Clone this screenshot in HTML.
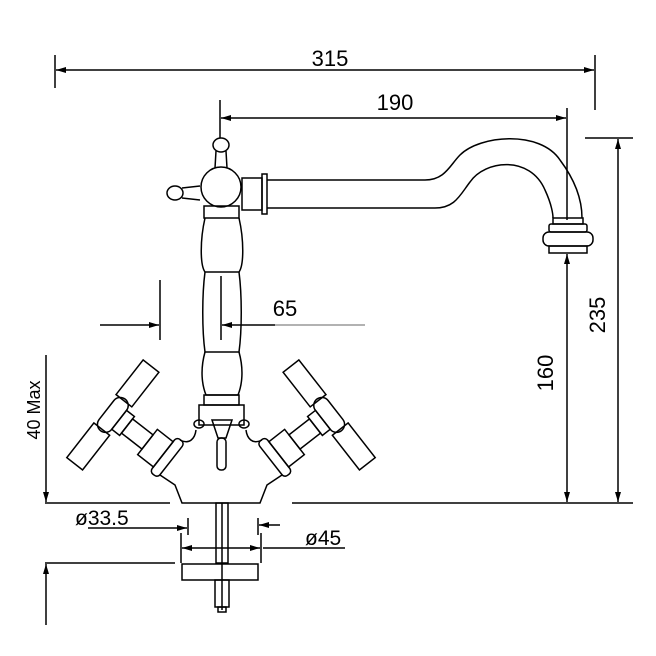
<!DOCTYPE html>
<html><head><style>html,body{margin:0;background:#fff}svg{display:block}</style></head><body>
<svg width="656" height="656" viewBox="0 0 656 656" xmlns="http://www.w3.org/2000/svg" font-family="Liberation Sans, sans-serif" fill="none" stroke="#000" stroke-width="1.5">
<defs>
<marker id="a" viewBox="0 0 10 6" refX="10" refY="3" markerWidth="18" markerHeight="6" markerUnits="userSpaceOnUse" orient="auto-start-reverse"><path d="M0,0L10,3L0,6z" fill="#000" stroke="none"/></marker>
</defs>
<!-- 315 -->
<line x1="55" y1="55" x2="55" y2="88"/><line x1="595" y1="55" x2="595" y2="110"/>
<line x1="56" y1="70" x2="594" y2="70" marker-start="url(#a)" marker-end="url(#a)"/>
<text x="330" y="66" font-size="22" fill="#000" stroke="none" text-anchor="middle">315</text>
<!-- 190 -->
<line x1="220" y1="100" x2="220" y2="138"/><line x1="567" y1="108" x2="567" y2="220"/>
<line x1="221" y1="118" x2="566" y2="118" marker-start="url(#a)" marker-end="url(#a)"/>
<text x="395" y="110" font-size="22" fill="#000" stroke="none" text-anchor="middle">190</text>
<!-- 235 -->
<line x1="585" y1="138" x2="633" y2="138"/>
<line x1="618" y1="139" x2="618" y2="502" marker-start="url(#a)" marker-end="url(#a)"/>
<text transform="translate(605,315) rotate(-90)" font-size="22" fill="#000" stroke="none" text-anchor="middle">235</text>
<!-- 160 -->
<line x1="567" y1="254" x2="567" y2="502" marker-start="url(#a)" marker-end="url(#a)"/>
<text transform="translate(553,373) rotate(-90)" font-size="22" fill="#000" stroke="none" text-anchor="middle">160</text>
<!-- baseline -->
<line x1="292" y1="503" x2="633" y2="503"/><line x1="45" y1="503" x2="170" y2="503"/>
<!-- 40 Max -->
<text transform="translate(40,410) rotate(-90)" font-size="18" fill="#000" stroke="none" text-anchor="middle">40 Max</text>
<line x1="46" y1="355" x2="46" y2="502" marker-end="url(#a)"/>
<line x1="45" y1="563" x2="175" y2="563"/>
<line x1="46" y1="625" x2="46" y2="564" marker-end="url(#a)"/>
<!-- 65 -->
<line x1="160" y1="280" x2="160" y2="340"/><line x1="221" y1="276" x2="221" y2="340"/>
<line x1="100" y1="325" x2="159" y2="325" marker-end="url(#a)"/>
<line x1="275" y1="325" x2="222" y2="325" marker-end="url(#a)"/>
<line x1="275" y1="325" x2="365" y2="325" stroke="#999"/>
<text x="285" y="316" font-size="22" fill="#000" stroke="none" text-anchor="middle">65</text>
<!-- diameters -->
<text x="75" y="525" font-size="21" fill="#000" stroke="none">ø33.5</text>
<line x1="88" y1="528" x2="187" y2="528" marker-end="url(#a)"/><line x1="188" y1="518" x2="188" y2="535"/>
<line x1="280" y1="525" x2="259" y2="525" marker-end="url(#a)"/><line x1="258" y1="518" x2="258" y2="535"/>
<line x1="263" y1="548" x2="345" y2="548"/>
<text x="305" y="545" font-size="21" fill="#000" stroke="none">ø45</text>
<line x1="181" y1="533" x2="181" y2="563"/><line x1="261" y1="533" x2="261" y2="563"/>
<line x1="182" y1="548" x2="260" y2="548" marker-start="url(#a)" marker-end="url(#a)"/>
<!-- stem & plate -->
<rect x="216" y="503" width="12" height="60"/><line x1="222" y1="503" x2="222" y2="610"/>
<rect x="182" y="564" width="76" height="16"/>
<rect x="215" y="580" width="14" height="27"/><rect x="218" y="607" width="8" height="5"/>
<!-- top knob & body -->
<ellipse cx="221" cy="145" rx="8" ry="7"/><path d="M216,151 L215,168 M226,151 L227,168"/>
<circle cx="221" cy="187" r="20"/>
<ellipse cx="175" cy="193" rx="8" ry="7"/><path d="M182,188 L200,186 M182,198 L200,200"/>
<rect x="242" y="178" width="20" height="32"/><rect x="262" y="174" width="5" height="40"/>
<!-- spout -->
<path d="M267,180 L425,180 C445,180 450,165 460,155 C480,135 540,130 560,160 C575,180 582,200 582,218"/>
<path d="M267,208 L435,208 C455,208 460,195 470,182 C485,160 530,155 545,190 C552,205 553,215 553,218"/>
<rect x="553" y="218" width="30" height="6"/>
<rect x="549" y="224" width="38" height="8" rx="2"/>
<rect x="543" y="232" width="50" height="14" rx="6"/>
<rect x="549" y="246" width="38" height="7"/>
<!-- column -->
<rect x="204" y="206" width="35" height="12"/>
<path d="M205,218 C200,240 200,265 205,272 L239,272 C244,265 244,240 239,218"/>
<path d="M205,272 C202,295 202,330 205,352 L239,352 C242,330 242,295 239,272"/>
<path d="M205,352 C200,370 202,385 206,395 L238,395 C242,385 244,370 239,352"/>
<rect x="204" y="395" width="35" height="10"/>
<rect x="199" y="405" width="45" height="20"/>
<ellipse cx="199" cy="424" rx="5" ry="4"/><ellipse cx="244" cy="424" rx="5" ry="4"/>
<path d="M212,420 L232,420 L226,438 L218,438Z"/><rect x="217" y="438" width="9" height="32" rx="4"/>
<!-- base body -->
<path d="M180,440 C190,445 195,438 196,430 M262,440 C252,445 247,438 246,430"/>
<path d="M160,475 L175,485 L182,503 L260,503 L267,485 L282,475"/>
<!-- left handle -->
<g transform="translate(168,458) rotate(218)">
<rect x="-4" y="-22" width="10" height="44" rx="4"/>
<rect x="6" y="-16" width="20" height="32"/><rect x="26" y="-9" width="26" height="18"/>
<rect x="52" y="-12" width="10" height="24"/>
<rect x="62" y="-20" width="16" height="40" rx="8"/>
<rect x="60" y="-62" width="20" height="44"/><rect x="60" y="18" width="20" height="44"/>
</g>
<!-- right handle -->
<g transform="translate(274,458) rotate(-38)">
<rect x="-4" y="-22" width="10" height="44" rx="4"/>
<rect x="6" y="-16" width="20" height="32"/><rect x="26" y="-9" width="26" height="18"/>
<rect x="52" y="-12" width="10" height="24"/>
<rect x="62" y="-20" width="16" height="40" rx="8"/>
<rect x="60" y="-62" width="20" height="44"/><rect x="60" y="18" width="20" height="44"/>
</g>
</svg>
</body></html>
